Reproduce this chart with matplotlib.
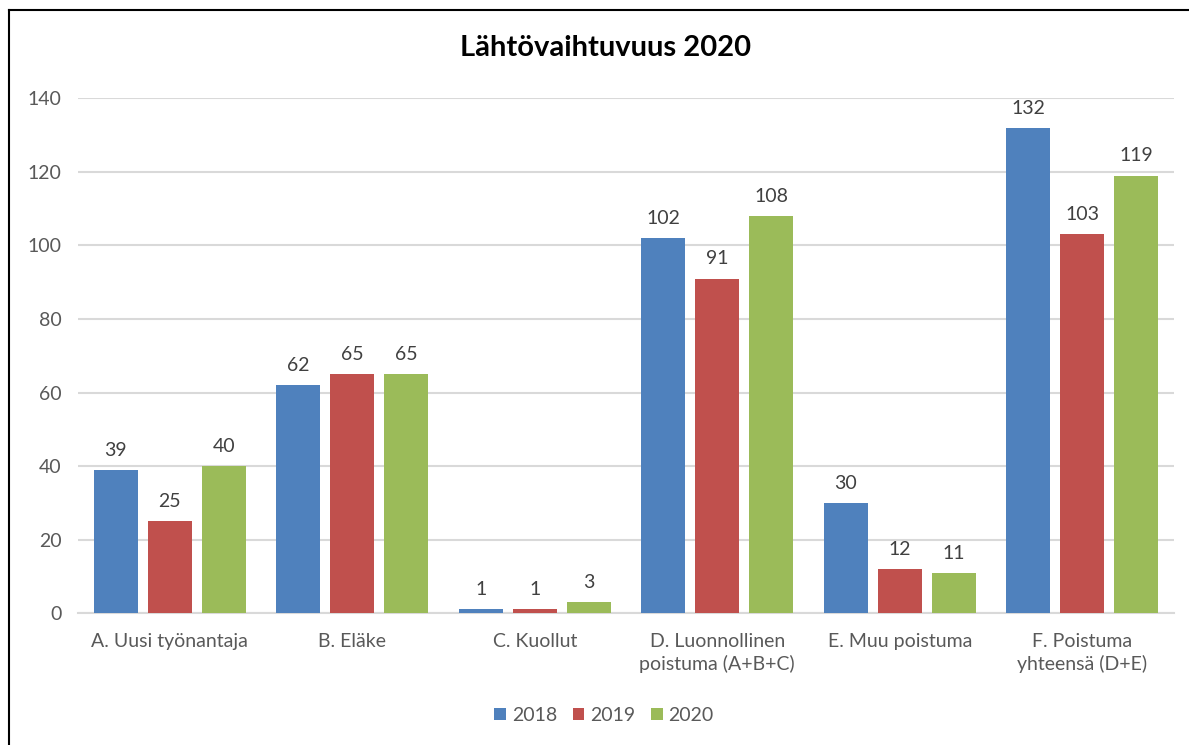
import numpy as np
import matplotlib.pyplot as plt
from matplotlib.lines import Line2D

categories = ["A. Uusi työnantaja", "B. Eläke", "C. Kuollut",
              "D. Luonnollinen\npoistuma (A+B+C)", "E. Muu poistuma",
              "F. Poistuma\nyhteensä (D+E)"]
years = ["2018", "2019", "2020"]
v2018 = [39, 62, 1, 102, 30, 132]
v2019 = [25, 65, 1, 91, 12, 103]
v2020 = [40, 65, 3, 108, 11, 119]
colors = ["#4F81BD", "#C0504D", "#9BBB59"]

plt.rcParams['font.family'] = ['Lato', 'DejaVu Sans']

fig = plt.figure(figsize=(11.89, 7.45), dpi=100)
ax = fig.add_axes([0.066, 0.177, 0.921, 0.691])

x = np.arange(len(categories))
w = 0.24
step = 0.296
for i, (vals, c, yr) in enumerate(zip([v2018, v2019, v2020], colors, years)):
    bars = ax.bar(x + (i - 1) * step, vals, w, color=c, label=yr, zorder=3)
    for b, v in zip(bars, vals):
        ax.annotate(str(v), (b.get_x() + b.get_width() / 2, v),
                    xytext=(0, 8), textcoords="offset points",
                    ha="center", va="bottom", fontsize=14, color="#404040")

ax.set_ylim(0, 140)
ax.set_xlim(-0.5, len(categories) - 0.5)
ax.set_yticks(range(0, 141, 20))
ax.set_xticks(x)
ax.set_xticklabels(categories, fontsize=14, color="#595959", linespacing=1.35)
ax.tick_params(axis="y", labelsize=14, labelcolor="#595959", length=0, pad=12)
ax.tick_params(axis="x", length=0, pad=14)
ax.yaxis.grid(True, color="#D9D9D9", linewidth=1.5, zorder=0)
for s in ["top", "right", "left"]:
    ax.spines[s].set_visible(False)
ax.spines["bottom"].set_color("#D9D9D9")
ax.spines["bottom"].set_linewidth(1.5)

fig.text(0.509, 0.935, "Lähtövaihtuvuus 2020", ha="center", va="center",
         fontsize=21, fontweight="bold", color="black")

fig.legend(loc="center", bbox_to_anchor=(0.508, 0.04), ncol=3, frameon=False,
           fontsize=14, handlelength=0.6, handleheight=0.6, columnspacing=0.8,
           handletextpad=0.3, labelcolor="#595959")

# border of the chart area (top and left only visible in the crop)
fig.add_artist(Line2D([0.0075, 0.0075], [0, 0.987], color="black", linewidth=1.5))
fig.add_artist(Line2D([0.0075, 1.0], [0.987, 0.987], color="black", linewidth=1.5))

plt.savefig("out.png", dpi=100)
